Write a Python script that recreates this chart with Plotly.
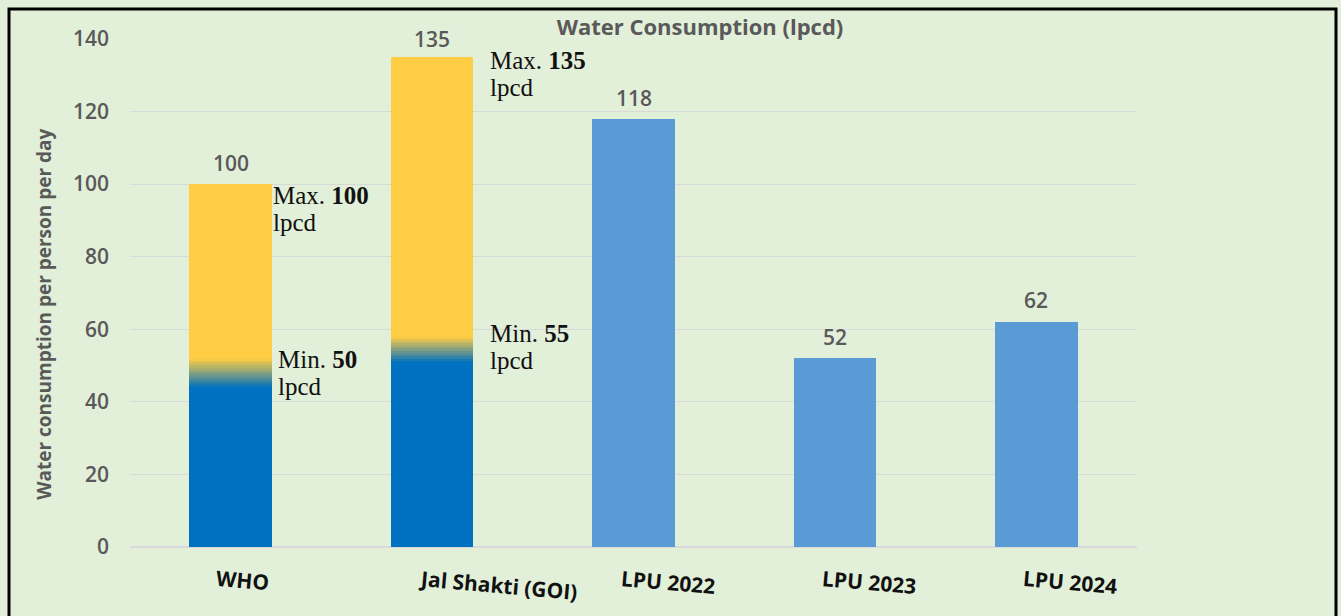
import plotly.graph_objects as go

# ---------------- data ----------------
categories = ["WHO", "Jal Shakti (GOI)", "LPU 2022", "LPU 2023", "LPU 2024"]
standards = ["WHO", "Jal Shakti (GOI)"]
standard_min = [50, 55]
standard_max = [100, 135]
blend_low = [44, 51]     # where the blue-to-yellow colour blend starts
blend_high = [52, 58]    # where the blend ends
lpu_years = ["LPU 2022", "LPU 2023", "LPU 2024"]
lpu_lpcd = [118, 52, 62]
y_ticks = [0, 20, 40, 60, 80, 100, 120, 140]

# ---------------- style ----------------
BG = "#E2EFD9"
BLUE = "#0070C0"
YELLOW = "#FFCD43"
LPU_BLUE = "#5B9BD5"
GRAY = "#595959"
GRID = "#D9D9D9"
BAR_W = 0.41
N_STEPS = 16
SANS = "Open Sans"
SERIF = "Liberation Serif"
NOTE_SIZE = 25
LINE_GAP = 27


def hex_to_rgb(h):
    h = h.lstrip("#")
    return tuple(int(h[i:i + 2], 16) for i in (0, 2, 4))


def blend(c1, c2, t):
    a, b = hex_to_rgb(c1), hex_to_rgb(c2)
    r = [round(a[k] + (b[k] - a[k]) * t) for k in range(3)]
    return "rgb({},{},{})".format(*r)


fig = go.Figure()

# blue base of guideline bars
fig.add_bar(x=standards, y=blend_low, width=BAR_W, marker=dict(color=BLUE, line_width=0))
# gradient band
steps = [(h - l) / N_STEPS for l, h in zip(blend_low, blend_high)]
for i in range(N_STEPS):
    t = (i + 0.5) / N_STEPS
    fig.add_bar(x=standards, y=steps, width=BAR_W,
                marker=dict(color=blend(BLUE, YELLOW, t), line_width=0))
# yellow top
fig.add_bar(x=standards, y=[m - h for m, h in zip(standard_max, blend_high)], width=BAR_W,
            marker=dict(color=YELLOW, line_width=0))
# LPU bars
fig.add_bar(x=lpu_years, y=lpu_lpcd, width=BAR_W, marker=dict(color=LPU_BLUE, line_width=0))

annotations = []
# value labels
totals = dict(zip(standards, standard_max))
totals.update(dict(zip(lpu_years, lpu_lpcd)))
value_shift = [21, 18, 21, 21, 22]
for c, dy in zip(categories, value_shift):
    annotations.append(dict(x=c, y=totals[c], xref="x", yref="y", text=str(totals[c]),
                            showarrow=False, yanchor="middle", yshift=dy,
                            font=dict(family=SANS, size=21, color=GRAY, weight=600)))

# Max / Min notes (two separate lines each)
max_shift = [(40, -11), (56, -3)]
min_shift = [(45, 6), (56, 14)]


def add_note(cat, val, first, shift):
    dx, dy = shift
    for k, line in enumerate([first, "lpcd"]):
        annotations.append(dict(x=cat, y=val, xref="x", yref="y", text=line,
                                showarrow=False, xanchor="left", yanchor="middle",
                                xshift=dx, yshift=dy - k * LINE_GAP,
                                font=dict(family=SERIF, size=NOTE_SIZE, color="#111111")))


for s, mn, mx, ms, ns in zip(standards, standard_min, standard_max, max_shift, min_shift):
    add_note(s, mx, f"Max. <b>{mx}</b>", ms)
    add_note(s, mn, f"Min. <b>{mn}</b>", ns)

# category labels (slightly tilted, offset)
label_shift = [(12, -33), (66, -38), (34, -35), (34, -35), (34, -35)]
for c, (dx, dy) in zip(categories, label_shift):
    annotations.append(dict(x=c, y=0, xref="x", yref="y", text=c, showarrow=False,
                            textangle=5, xshift=dx, yshift=dy, yanchor="middle",
                            font=dict(family=SANS, size=21, color="#111111", weight=700)))

# axis title
annotations.append(dict(x=-0.0854, y=0.457, xref="paper", yref="paper",
                        xanchor="center", yanchor="middle",
                        text="Water consumption per person per day", textangle=-90,
                        showarrow=False, font=dict(family=SANS, size=19, color=GRAY, weight=700)))

fig.update_layout(
    width=1341, height=616,
    margin=dict(l=130, r=204, t=39, b=69),
    paper_bgcolor=BG, plot_bgcolor=BG,
    barmode="stack", showlegend=False, hovermode=False,
    title=dict(text="Water Consumption (lpcd)", x=0.566, xref="paper", xanchor="center",
               y=1 - 27 / 616, yref="container", yanchor="middle",
               font=dict(family=SANS, size=22, color=GRAY, weight=700)),
    xaxis=dict(categoryorder="array", categoryarray=categories, showticklabels=False,
               showgrid=False, zeroline=False, showline=False),
    yaxis=dict(range=[0, 140], tickvals=y_ticks, showgrid=True, gridcolor=GRID, gridwidth=1,
               zeroline=True, zerolinecolor=GRID, zerolinewidth=1.5, showline=False,
               ticklabelstandoff=20,
               tickfont=dict(family=SANS, size=21, color=GRAY, weight=600)),
    annotations=annotations,
    shapes=[dict(type="rect", xref="paper", yref="paper",
                 x0=(9 - 130) / 1007, x1=(1336 - 130) / 1007,
                 y0=-0.3, y1=(547 - 9) / 508,
                 line=dict(color="black", width=3), fillcolor="rgba(0,0,0,0)", layer="above")],
)

fig.write_html("out.html", config={"displayModeBar": False},
               post_script="document.body.style.margin='0px';document.body.style.overflow='hidden';")
